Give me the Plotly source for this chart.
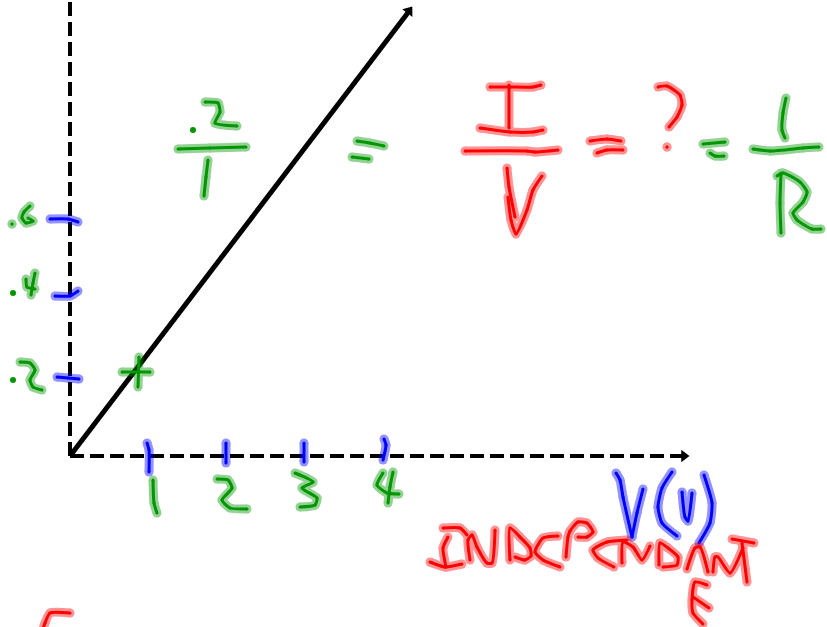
import plotly.graph_objects as go

# whiteboard sketch, all strokes in page pixels (y down)
AXIS_Y_X = [70, 70]
AXIS_Y_Y = [456, 0]
AXIS_X_X = [70, 682]
AXIS_X_Y = [456, 456]
DIAG_X = [70, 410]
DIAG_Y = [456, 10]
HEAD_X = [409, 684]
HEAD_Y = [11, 456]
HEAD_ANGLE = [37, 90]

blue_ticks = [
    [(50, 219), (68, 219), (78, 222)],
    [(55, 296), (70, 296), (78, 291)],
    [(57, 377), (68, 378), (79, 379)],
    [(147, 443), (149, 450), (149, 472)],
    [(226, 443), (226, 463)],
    [(304, 443), (304, 462)],
    [(384, 439), (386, 445), (383, 460)],
]
blue_label = [
    [(616, 473), (620, 480), (623, 497), (632, 537)],
    [(632, 537), (637, 513), (643, 489)],
    [(672, 472), (662, 488), (658, 507), (662, 523), (677, 536)],
    [(682, 492), (685, 517), (688, 521), (692, 493)],
    [(704, 475), (712, 503), (710, 523), (699, 543)],
]
green_y_labels = [
    [(12, 224), (12, 224)],
    [(30, 206), (24, 212), (22, 218), (26, 223), (33, 221), (28, 218)],
    [(26, 279), (27, 287), (35, 289)],
    [(35, 273), (33, 283), (31, 295)],
    [(20, 362), (30, 363), (35, 370), (30, 380), (33, 387), (42, 390)],
    [(122, 372), (150, 372)],
    [(139, 357), (138, 387)],
]
green_x_labels = [
    [(153, 480), (154, 503), (157, 513)],
    [(217, 479), (228, 480), (232, 488), (222, 500), (230, 508), (247, 509)],
    [(295, 473), (313, 482), (302, 488), (317, 498), (315, 505), (300, 507)],
    [(383, 473), (377, 485), (387, 493), (399, 494)],
    [(393, 472), (390, 487), (388, 503)],
]
green_slope = [
    [(205, 102), (218, 103), (220, 112), (215, 123), (237, 126)],
    [(178, 149), (210, 148), (246, 147)],
    [(208, 160), (206, 177), (204, 196)],
    [(357, 141), (370, 143), (384, 146)],
    [(352, 157), (369, 159)],
]
green_formula = [
    [(703, 144), (725, 142)],
    [(710, 153), (715, 156), (724, 156)],
    [(786, 98), (783, 113), (782, 130), (785, 138)],
    [(753, 149), (770, 151), (803, 148), (819, 147)],
    [(781, 233), (780, 203), (781, 173)],
    [(777, 176), (783, 173), (800, 182), (807, 192), (803, 202), (793, 213), (797, 220), (812, 229), (821, 229)],
]
green_dots_x = [13, 13, 193]
green_dots_y = [293, 380, 130]
red_formula = [
    [(490, 87), (510, 87), (533, 87), (541, 85)],
    [(509, 85), (509, 128)],
    [(480, 128), (510, 132), (533, 132), (543, 130)],
    [(465, 151), (527, 151), (535, 152), (558, 150)],
    [(507, 168), (509, 187), (515, 217)],
    [(508, 197), (511, 220), (516, 234), (527, 210), (533, 190), (542, 176)],
    [(590, 141), (607, 139), (621, 141)],
    [(597, 153), (607, 150), (623, 150)],
    [(658, 87), (667, 86), (680, 95), (682, 105), (677, 117), (669, 127)],
    [(667, 147), (667, 147)],
]
red_word = [
    [(443, 528), (460, 528), (467, 535)],
    [(448, 537), (443, 548), (446, 567)],
    [(430, 562), (445, 567), (462, 564)],
    [(470, 560), (468, 540), (472, 535), (477, 547), (487, 563), (492, 563), (495, 530)],
    [(510, 560), (510, 528), (520, 537), (530, 548), (531, 556), (525, 560), (515, 557)],
    [(558, 536), (543, 538), (535, 552), (543, 560), (560, 567)],
    [(566, 557), (568, 537), (570, 531), (578, 522), (587, 523), (593, 532), (587, 537), (578, 537)],
    [(627, 540), (607, 542), (593, 550), (598, 558), (614, 567)],
    [(622, 563), (623, 542), (633, 547), (642, 560), (650, 546)],
    [(659, 565), (660, 543), (668, 548), (678, 557), (677, 565), (663, 567)],
    [(687, 569), (695, 548), (700, 547), (708, 572)],
    [(713, 572), (715, 557), (718, 557), (730, 573), (743, 548)],
    [(732, 539), (754, 543)],
    [(742, 543), (747, 582)],
    [(707, 585), (695, 582), (692, 600), (693, 613), (703, 624)],
    [(693, 597), (709, 608)],
    [(70, 613), (50, 613), (45, 623), (42, 632)],
]

RED = "#ff0000"
GREEN = "#009600"
BLUE = "#0000ff"


def add_strokes(fig, strokes, color):
    xs, ys = [], []
    for stroke in strokes:
        xs += [p[0] for p in stroke] + [None]
        ys += [p[1] for p in stroke] + [None]
    # soft pen edge first, then the solid core
    for width, opacity in [(9, 0.42), (3, 1)]:
        fig.add_trace(go.Scatter(x=xs, y=ys, mode="lines+markers", opacity=opacity,
                                 line=dict(color=color, width=width, shape="spline", smoothing=0.6),
                                 marker=dict(color=color, size=width)))


fig = go.Figure()
for xs, ys in [(AXIS_Y_X, AXIS_Y_Y), (AXIS_X_X, AXIS_X_Y)]:
    fig.add_trace(go.Scatter(x=xs, y=ys, mode="lines", line=dict(color="black", width=4, dash="14px,6px")))
fig.add_trace(go.Scatter(x=DIAG_X, y=DIAG_Y, mode="lines", line=dict(color="black", width=5)))
fig.add_trace(go.Scatter(x=HEAD_X, y=HEAD_Y, mode="markers",
                         marker=dict(symbol="triangle-up", size=11, color="black", angle=HEAD_ANGLE)))

add_strokes(fig, blue_ticks + blue_label, BLUE)
add_strokes(fig, green_y_labels + green_x_labels + green_slope + green_formula, GREEN)
add_strokes(fig, red_formula + red_word, RED)
fig.add_trace(go.Scatter(x=green_dots_x, y=green_dots_y, mode="markers", marker=dict(color=GREEN, size=6)))

fig.update_layout(width=827, height=627, margin=dict(l=0, r=0, t=0, b=0),
                  showlegend=False, plot_bgcolor="white", paper_bgcolor="white")
fig.update_xaxes(range=[0, 827], visible=False)
fig.update_yaxes(range=[627, 0], visible=False)
# browser default body margin would shift the picture by 8px
fig.write_html("out.html", config={"displayModeBar": False},
               post_script="document.body.style.margin='0';document.body.style.overflow='hidden';")
